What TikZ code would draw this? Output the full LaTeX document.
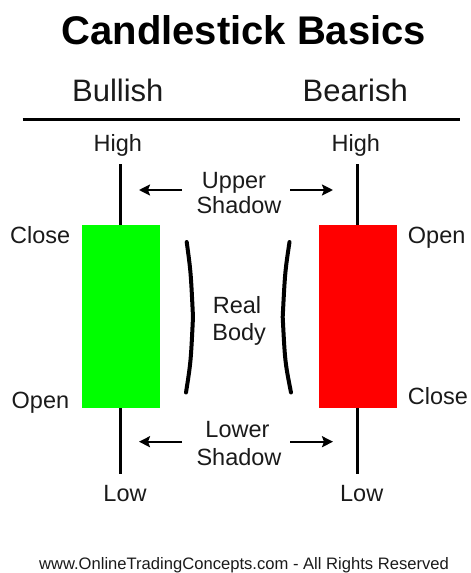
\documentclass[tikz,border=0pt]{standalone}
\usepackage{fontspec}
\setmainfont{Liberation Sans}
\usetikzlibrary{arrows.meta}
\definecolor{bullgreen}{HTML}{00FF00}
\definecolor{bearred}{HTML}{FF0000}
\definecolor{txt}{HTML}{1A1A1A}
\tikzset{
  titletext/.style={font=\fontsize{40}{42}\selectfont\bfseries, inner sep=0pt, anchor=base},
  headtext/.style={font=\fontsize{31}{34}\selectfont, inner sep=0pt, anchor=base, text=txt},
  lbl/.style={font=\fontsize{23.5}{26}\selectfont, inner sep=0pt, anchor=base, text=txt},
  foot/.style={font=\fontsize{16.6}{18}\selectfont, inner sep=0pt, anchor=base, text=txt},
  wick/.style={line width=3pt},
  candle/.style={draw=none, minimum width=78pt, minimum height=183pt, inner sep=0pt},
  pointer/.style={line width=2.4pt, -{Stealth[length=11pt,width=11pt,inset=2pt]}},
  bracket/.style={line width=4pt, line cap=round, line join=round},
}
\begin{document}
\begin{tikzpicture}[x=1pt,y=-1pt]
\useasboundingbox (0,0) rectangle (471,573);
% titles
\node[titletext] (title) at (243.8,44) {Candlestick Basics};
\node[headtext] (bull) at (117.8,101.7) {Bullish};
\node[headtext] (bear) at (355.2,101.7) {Bearish};
\coordinate (rl) at (22.7,119);
\coordinate (rr) at (460,119);
\draw[line width=3pt] (rl) -- (rr);
% candles
\node[candle, fill=bullgreen] (gb) at (120.5,316.4) {};
\node[candle, fill=bearred] (rb) at (357.5,316.4) {};
\coordinate (gtop) at (120.5,164);
\coordinate (gbot) at (120.5,474);
\coordinate (rtop) at (357.5,164);
\coordinate (rbot) at (357.5,474);
\draw[wick] (gb.north) -- (gtop);
\draw[wick] (gb.south) -- (gbot);
\draw[wick] (rb.north) -- (rtop);
\draw[wick] (rb.south) -- (rbot);
% labels
\node[lbl] (hl) at (117.8,151.7) {High};
\node[lbl] (hr) at (355.8,151.7) {High};
\node[lbl] (ll) at (125,501.7) {Low};
\node[lbl] (lr) at (361.7,501.7) {Low};
\node[lbl, anchor=base west] (cl) at (10,243.3) {Close};
\node[lbl, anchor=base west] (ol) at (11.5,408) {Open};
\node[lbl, anchor=base west] (or) at (407.7,243.3) {Open};
\node[lbl, anchor=base west] (cr) at (407.7,404) {Close};
% middle texts
\node[lbl] (up1) at (234,188) {Upper};
\node[lbl] (up2) at (239,213.3) {Shadow};
\node[lbl] (rb1) at (237,313.3) {Real};
\node[lbl] (rb2) at (239.2,340) {Body};
\node[lbl] (lo1) at (237.5,437) {Lower};
\node[lbl] (lo2) at (239,465) {Shadow};
% arrows
\coordinate (ua1) at (182,190);
\coordinate (ua1t) at (139,190);
\coordinate (ua2) at (290,190);
\coordinate (ua2t) at (333,190);
\coordinate (la1) at (182,441.7);
\coordinate (la1t) at (139,441.7);
\coordinate (la2) at (290,441.7);
\coordinate (la2t) at (333,441.7);
\draw[pointer] (ua1) -- (ua1t);
\draw[pointer] (ua2) -- (ua2t);
\draw[pointer] (la1) -- (la1t);
\draw[pointer] (la2) -- (la2t);
% brackets
\coordinate (b1a) at (186.7,242);
\coordinate (b1b) at (193,317);
\coordinate (b1c) at (186,392.5);
\coordinate (b2a) at (289.5,242);
\coordinate (b2b) at (282.7,317);
\coordinate (b2c) at (291,392.5);
\draw[bracket] (b1a) .. controls (190.8,272) .. (b1b) .. controls (190.8,362) .. (b1c);
\draw[bracket] (b2a) .. controls (285,272) .. (b2b) .. controls (285,362) .. (b2c);
% footer
\node[foot] (ft) at (244,569) {www.OnlineTradingConcepts.com - All Rights Reserved};
\end{tikzpicture}
\end{document}
